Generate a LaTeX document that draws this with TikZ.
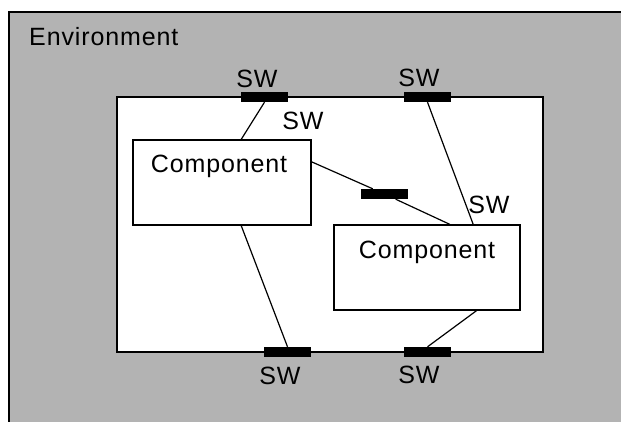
\documentclass[tikz,border=0pt]{standalone}
\usepackage{fontspec}
\setmainfont{Liberation Sans}[LetterSpace=3.5]
\begin{document}
\begin{tikzpicture}[x=1pt,y=-1pt,
  frame/.style={draw=black,line width=1.4pt},
  comp/.style={draw=black,line width=1.2pt,fill=white,rectangle,inner sep=0pt},
  swbox/.style={fill=black,rectangle,minimum width=47pt,minimum height=10pt,inner sep=0pt},
  wire/.style={draw=black,line width=1.2pt},
  lbl/.style={inner sep=0pt,font=\fontsize{25}{30}\selectfont}]
\useasboundingbox (0,0) rectangle (621,421);
\fill[white] (0,0) rectangle (621,421);
\begin{scope}
\clip (0,0) rectangle (621,421);
\draw[frame,fill={rgb,255:red,179;green,179;blue,179}] (9,12) rectangle (640,440);
\end{scope}
\node[lbl,anchor=base west] (envlbl) at (29,45) {Environment};
\draw[frame,line width=1.2pt,fill=white] (117,97) rectangle (543,352);
\node[comp,minimum width=178pt,minimum height=85pt] (comp1) at (222,182.5) {};
\node[comp,minimum width=186pt,minimum height=85pt] (comp2) at (427,267.5) {};
\node[swbox] (swtl) at (264.5,97) {};
\node[swbox] (swtr) at (427.5,97) {};
\node[swbox] (swm) at (384.5,194) {};
\node[swbox] (swbl) at (287.5,352) {};
\node[swbox] (swbr) at (427.5,352) {};
\draw[wire] (swtl.south) -- (comp1.66);
\draw[wire] (swtr.south) -- (comp2.43);
\draw[wire] (comp1.-66) -- (swbl.north);
\draw[wire] (comp2.-41) -- (swbr.north);
\draw[wire] (comp1.13) -- (swm);
\draw[wire] (swm) -- (comp2.62);
\node[lbl,anchor=base] (t1) at (219,172) {Component};
\node[lbl,anchor=base] (t2) at (427,258) {Component};
\node[lbl,anchor=base] (l1) at (257,87) {SW};
\node[lbl,anchor=base] (l2) at (419,86) {SW};
\node[lbl,anchor=base] (l3) at (303,129) {SW};
\node[lbl,anchor=base] (l4) at (489,213) {SW};
\node[lbl,anchor=base] (l5) at (280,384) {SW};
\node[lbl,anchor=base] (l6) at (419,383) {SW};
\end{tikzpicture}
\end{document}
